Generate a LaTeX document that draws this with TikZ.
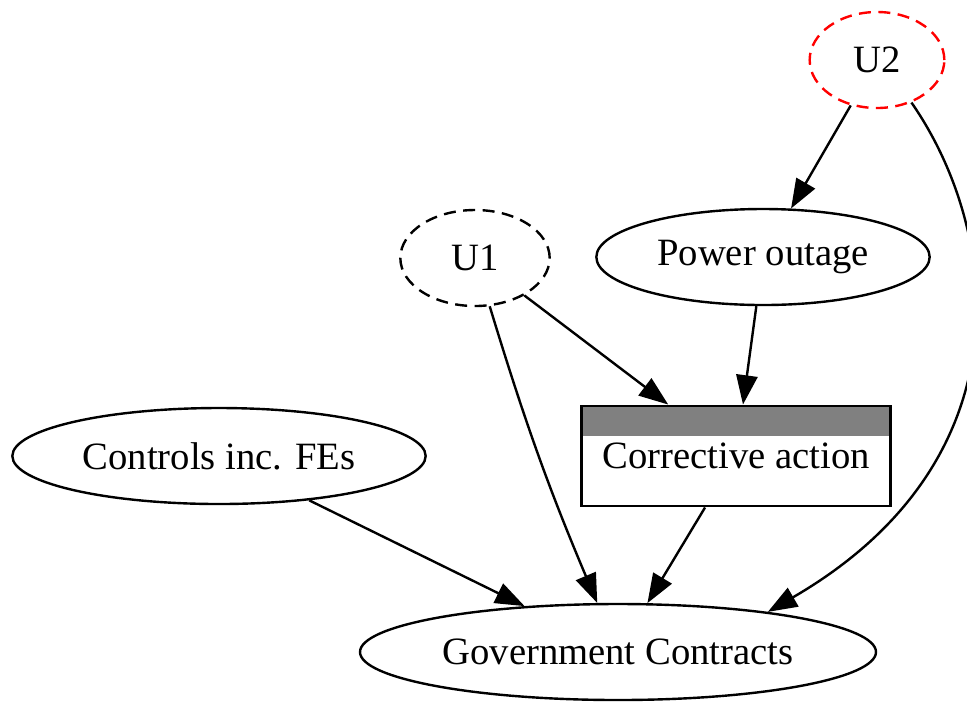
\documentclass[tikz,border=0pt]{standalone}
\usepackage{fontspec}
\setmainfont{Liberation Serif}
\usetikzlibrary{shapes.geometric, arrows.meta}
\tikzstyle{arrow} = [line width=0.9pt,-{Triangle[length=11pt,width=8pt]}]
\tikzstyle{var} = [ellipse, draw, line width=0.9pt, inner sep=0pt, minimum height=36pt]
\tikzstyle{latent} = [var, dash pattern=on 4.5pt off 2.8pt]
\tikzstyle{treat} = [rectangle, draw, line width=1.1pt, inner sep=0pt, minimum width=116pt, minimum height=37.5pt,
  path picture={\fill[gray] (path picture bounding box.north west) rectangle ([yshift=-11.25pt]path picture bounding box.north east);}]

\begin{document}
\begin{tikzpicture}[x=0.375pt, y=-0.375pt, font=\fontsize{14.5pt}{17pt}\selectfont]
\useasboundingbox (0,0) rectangle (967,702);
\clip (0,0) rectangle (967,702);
\node[latent, draw=red, minimum width=50.5pt] (U2) at (877,60) {U2};
\node[latent, minimum width=56pt] (U1) at (475,258) {U1};
\node[var, minimum width=125pt] (power) at (763,257) {Power outage};
\node[var, minimum width=155pt] (controls) at (219,456) {Controls inc. FEs};
\node[treat] (corr) at (736,456) {Corrective action};
\node[var, minimum width=193.5pt] (gov) at (618,652) {Government Contracts};
\draw[arrow] (U2) -- (power);
\draw[arrow] (U2.-51) .. controls (1000,230) and (1030,460) .. (gov.15);
\draw[arrow] (U1) -- (corr);
\draw[arrow] (U1) to[bend right=3] (gov);
\draw[arrow] (power) -- (corr);
\draw[arrow] (controls) -- (gov);
\draw[arrow] (corr) -- (gov);
\end{tikzpicture}
\end{document}
